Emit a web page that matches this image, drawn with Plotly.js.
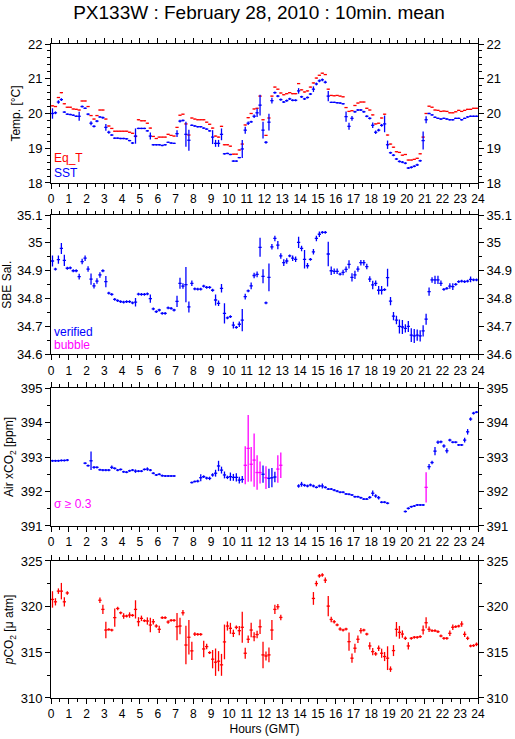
<!DOCTYPE html>
<html><head><meta charset="utf-8">
<script src="https://cdn.plot.ly/plotly-3.0.1.min.js"></script>
<style>body{margin:0;background:#fff}#c{width:515px;height:739px}</style>
</head><body><div id="c"></div>
<script>
// 10-minute mean timestamps (hours GMT, mid-interval)
const hours = Array.from({length:144},(_,i)=>(i*10+5)/60);
const hourTicks = ['0','1','2','3','4','5','6','7','8','9','10','11','12','13','14','15','16','17','18','19','20','21','22','23','24'];

const sst = [20.0,20.02,20.33,20.4,20.04,19.98,19.97,19.95,19.92,19.92,
20.2,20.15,19.98,19.72,19.63,19.78,19.9,19.88,19.6,19.46,
19.38,19.29,19.29,19.28,19.28,19.27,19.22,19.15,19.35,19.57,
19.57,19.57,19.5,19.35,19.1,19.1,19.1,19.08,19.1,19.17,
19.15,19.14,19.42,19.78,19.8,19.4,19.23,19.66,19.64,19.62,
19.62,19.58,19.55,19.5,19.32,19.14,19.14,19.4,18.84,18.85,
18.82,18.63,18.63,18.73,18.98,19.52,19.72,19.76,19.92,20.02,
20.24,19.52,19.17,19.75,20.37,20.6,20.5,20.4,20.33,20.37,
20.42,20.38,20.38,20.65,20.48,20.42,20.46,20.56,20.7,20.85,
20.94,20.97,20.9,20.5,20.32,20.32,20.31,20.3,20.28,19.91,
19.63,19.86,20.05,20.1,20.1,20.05,19.92,19.86,19.66,19.46,
19.52,19.66,19.7,19.1,18.87,18.8,18.69,18.62,18.6,18.57,
18.43,18.45,18.48,18.52,18.64,19.22,19.82,20.0,19.96,19.89,
19.86,19.84,19.86,19.84,19.82,19.82,19.86,19.86,19.82,19.86,
19.9,19.92,19.92,19.92];
const sstErr = [.15,.04,.05,.04,.02,.02,.02,.02,.02,.13,
.03,.02,.03,.06,.03,.03,.02,.03,.1,.04,
.02,.02,.02,.02,.02,.02,.02,.03,.22,.02,
.02,.02,.02,.1,.02,.02,.02,.02,.02,.02,
.02,.02,.1,.04,.03,.36,.3,.02,.02,.02,
.02,.02,.02,.02,.2,.1,.1,.17,.02,.02,
.02,.02,.02,.02,.26,.1,.05,.03,.05,.12,
.3,.24,.04,.24,.08,.03,.03,.03,.03,.03,
.03,.03,.03,.08,.03,.03,.03,.03,.08,.04,
.04,.04,.04,.15,.02,.02,.02,.02,.02,.15,
.1,.07,.03,.03,.03,.03,.03,.03,.08,.05,
.04,.04,.24,.12,.03,.03,.03,.03,.03,.03,
.03,.03,.03,.03,.03,.26,.1,.02,.02,.02,
.02,.02,.02,.02,.02,.02,.02,.02,.02,.02,
.02,.02,.02,.02];
const eqT = [20.22,20.2,20.46,20.6,20.28,20.18,20.18,20.13,20.12,20.1,
20.36,20.36,20.2,19.94,19.84,19.94,20.1,20.1,19.84,19.64,
19.57,19.49,19.49,19.49,19.49,19.49,19.46,19.43,19.34,19.82,
19.79,19.79,19.72,19.58,19.34,19.28,19.32,19.32,19.32,19.4,
19.37,19.35,19.6,19.95,19.98,19.7,19.38,19.87,19.84,19.82,
19.82,19.82,19.75,19.69,19.58,19.35,19.32,19.63,19.1,19.1,
19.06,18.83,18.83,18.95,19.12,19.67,19.88,20.0,20.13,20.15,
20.5,19.82,19.37,19.87,20.5,20.76,20.7,20.59,20.54,20.57,
20.6,20.57,20.57,20.86,20.68,20.62,20.65,20.76,20.88,21.02,
21.1,21.16,21.12,20.7,20.52,20.51,20.52,20.5,20.48,20.17,
20.06,20.08,20.23,20.3,20.33,20.33,20.15,20.1,19.96,19.7,
19.72,19.87,19.98,19.38,19.12,19.03,18.9,18.88,18.8,18.82,
18.66,18.66,18.68,18.71,18.84,19.32,20.0,20.21,20.18,20.1,
20.09,20.06,20.07,20.06,20.02,20.02,20.05,20.09,20.06,20.09,
20.12,20.12,20.15,20.15];

const sal = [34.935,34.906,34.94,34.98,34.937,34.909,34.91,34.9,34.9,34.879,
34.933,34.945,34.906,34.87,34.846,34.863,34.885,34.9,34.861,34.82,
34.815,34.797,34.793,34.789,34.787,34.789,34.789,34.785,34.787,34.816,
34.815,34.815,34.817,34.8,34.763,34.753,34.759,34.747,34.747,34.767,
34.765,34.759,34.79,34.855,34.845,34.85,34.77,34.855,34.835,34.834,
34.834,34.845,34.84,34.84,34.83,34.795,34.783,34.837,34.747,34.731,
34.735,34.705,34.697,34.708,34.723,34.807,34.828,34.846,34.883,34.887,
34.984,34.88,34.785,34.876,34.986,35.016,34.992,34.953,34.929,34.935,
34.953,34.945,34.941,35.002,34.98,34.941,34.918,34.941,34.968,35.016,
35.031,35.038,35.038,34.96,34.9,34.898,34.898,34.888,34.894,34.905,
34.923,34.876,34.885,34.906,34.929,34.929,34.915,34.87,34.849,34.855,
34.83,34.83,34.832,34.875,34.791,34.737,34.723,34.7,34.698,34.693,
34.7,34.669,34.666,34.669,34.666,34.684,34.726,34.825,34.867,34.867,
34.867,34.855,34.833,34.837,34.845,34.843,34.851,34.861,34.863,34.861,
34.863,34.869,34.867,34.867];
const salErr = [.02,.005,.015,.02,.02,.005,.005,.005,.005,.01,
.01,.01,.01,.02,.01,.01,.01,.005,.02,.005,
.005,.005,.005,.005,.005,.005,.005,.005,.015,.005,
.005,.005,.005,.015,.005,.005,.005,.005,.005,.005,
.005,.005,.02,.02,.01,.063,.02,.01,.005,.005,
.005,.005,.005,.005,.005,.02,.01,.015,.036,.005,
.005,.012,.005,.01,.04,.01,.005,.012,.01,.01,
.034,.025,.005,.05,.01,.01,.015,.01,.012,.01,
.005,.01,.01,.02,.01,.033,.01,.005,.01,.01,
.01,.005,.005,.044,.015,.01,.01,.005,.01,.01,
.015,.015,.015,.01,.01,.01,.01,.01,.015,.01,
.015,.015,.005,.032,.015,.015,.015,.025,.025,.015,
.02,.025,.025,.02,.02,.02,.02,.015,.01,.015,
.015,.01,.005,.005,.01,.012,.005,.005,.005,.005,
.005,.01,.005,.005];

const xco2 = [392.89,392.89,392.89,392.9,392.9,392.91,null,null,null,null,
null,392.82,392.75,392.89,392.7,392.7,392.63,392.62,392.62,392.62,
392.7,392.67,392.62,392.64,392.57,392.56,392.6,392.62,392.59,392.59,
392.59,392.64,392.65,392.62,392.53,392.48,392.5,392.46,392.45,392.45,
392.45,392.45,null,null,null,null,null,392.26,392.29,392.3,
392.4,392.43,392.39,392.38,392.48,392.53,392.74,392.62,392.48,392.41,
392.43,392.41,392.41,392.33,392.35,392.76,393.25,392.79,392.91,392.55,
392.55,392.5,392.4,392.38,392.4,392.42,392.65,392.76,null,null,
null,null,null,392.16,392.21,392.18,392.16,392.19,392.16,392.12,
392.16,392.16,392.12,392.07,392.07,392.04,392.01,391.98,391.98,391.93,
391.92,391.9,391.85,391.85,391.82,391.78,391.78,391.83,391.95,391.87,
391.82,391.69,391.69,391.66,null,null,null,null,null,391.42,
391.51,391.56,391.58,391.61,391.61,391.61,392.12,392.72,392.84,393.17,
393.43,393.44,393.32,393.18,393.49,393.43,393.43,393.35,393.35,393.49,
393.73,394.1,394.27,394.3];
const xco2Err = [.03,.03,.03,.03,.03,.03,0,0,0,0,
0,.03,.03,.27,.04,.03,.03,.03,.03,.03,
.05,.03,.03,.03,.03,.03,.03,.03,.05,.03,
.03,.03,.05,.03,.03,.03,.03,.03,.03,.03,
.03,.03,0,0,0,0,0,.03,.03,.04,
.1,.04,.04,.05,.05,.1,.15,.1,.1,.05,
.12,.1,.12,.1,.1,.55,.97,.5,.77,.5,
.32,.25,.33,.28,.28,.15,.4,.37,0,0,
0,0,0,.05,.07,.04,.04,.04,.04,.03,
.04,.07,.03,.03,.03,.03,.03,.03,.03,.03,
.03,.03,.03,.03,.03,.03,.03,.04,.08,.05,
.05,.03,.03,.03,0,0,0,0,0,.03,
.03,.03,.03,.03,.03,.03,.44,.08,.05,.12,
.05,.04,.05,.07,.04,.03,.03,.03,.03,.07,
.08,.05,.04,.03];
const sigmaLimit = 0.3;

const pco2 = [320.79,320.53,321.7,321.7,320.53,321.5,null,null,null,null,
null,null,null,null,null,null,320.7,319.7,317.44,317.5,
317.44,318.8,319.8,319.33,318.97,318.97,319.08,319.05,319.7,318.35,
318.72,318.46,318.43,317.99,318.35,317.88,317.52,318.79,318.79,318.32,
318.5,318.5,317.81,317.88,319.33,315.8,316.65,315.16,317.0,316.97,
316.97,315.37,315.63,314.97,314.25,313.92,314.03,313.63,316.14,317.88,
317.63,317.08,317.74,317.37,317.74,314.9,316.43,317.44,316.7,316.95,
317.8,314.72,314.6,314.72,317.44,319.7,319.99,318.82,null,null,
null,null,null,null,null,null,null,null,320.9,322.53,
323.37,323.47,322.9,320.06,318.6,318.35,318.0,317.55,317.44,317.55,
316.17,314.36,315.45,316.43,317.37,317.44,317.0,315.7,315.08,314.83,
315.45,314.9,314.54,314.36,313.16,315.19,317.52,317.19,317.0,316.54,
315.7,316.54,316.65,316.65,316.72,317.44,318.24,317.52,317.37,317.37,
317.26,316.79,316.54,316.54,317.08,317.74,317.81,317.88,318.1,316.97,
316.54,315.7,315.74,315.88];
const pco2Err = [.9,.4,.3,.9,.5,.2,0,0,0,0,
0,0,0,0,0,0,.3,.5,.9,.15,
.15,1.0,.2,.15,.3,.15,.3,.15,1.0,.5,
.3,.15,.4,.8,.3,.2,.4,.15,.15,.2,
.15,.15,1.5,.9,.3,2.1,1.9,1.0,.2,.15,
.15,.9,.3,.15,1.0,1.5,1.1,1.2,1.9,.5,
.6,.4,.2,.5,1.7,.6,.4,.8,.5,.4,
.8,1.45,.5,.8,1.1,.5,.3,.3,0,0,
0,0,0,0,0,0,0,0,.7,.3,
.2,.2,.3,1.1,.3,.2,.15,.2,.15,.15,
1.0,.5,.5,.4,.3,.15,.15,.4,.4,.2,
.3,.5,.5,1.3,.3,.6,.8,.7,.4,.2,
.4,.15,.15,.15,.15,.5,.6,.3,.15,.15,
.15,.15,.15,.15,.3,.3,.15,.15,.3,.3,
.2,.15,.15,.2];

const RED='#ff0000', BLUE='#0000ff', MAG='#ff00ff';
const FONT='Liberation Sans, Arial, sans-serif';
const halfStep = 5.5/60;

function pts(x, y, err, color, xa, ya){
  const t = {type:'scatter', mode:'markers', x:x, y:y, xaxis:xa, yaxis:ya,
    marker:{size:1, color:color}, hoverinfo:'skip', showlegend:false,
    error_x:{type:'constant', value:halfStep, width:0, thickness:1.3, color:color}};
  if (err) t.error_y = {type:'data', array:err, width:0, thickness:1.3, color:color};
  return t;
}
// carrier trace so that the right-hand mirror axis gets drawn (invisible)
function carrier(x, y, xa, ya){
  return {type:'scatter', mode:'markers', x:x, y:y, xaxis:xa, yaxis:ya,
    marker:{size:1, opacity:0}, hoverinfo:'skip', showlegend:false};
}
// split xCO2 by sigma threshold
const xLow = xco2.map((v,i)=> xco2Err[i] < sigmaLimit ? v : null);
const xHigh = xco2.map((v,i)=> xco2Err[i] >= sigmaLimit ? v : null);

const traces = [
  pts(hours, eqT, null, RED, 'x', 'y'),
  pts(hours, sst, sstErr, BLUE, 'x', 'y'),
  pts(hours, sal, salErr, BLUE, 'x2', 'y2'),
  pts(hours, xLow, xco2Err, BLUE, 'x3', 'y3'),
  pts(hours, xHigh, xco2Err, MAG, 'x3', 'y3'),
  pts(hours, pco2, pco2Err, RED, 'x4', 'y4'),
  carrier(hours, sst, 'x', 'y5'),
  carrier(hours, sal, 'x2', 'y6'),
  carrier(hours, xco2, 'x3', 'y7'),
  carrier(hours, pco2, 'x4', 'y8')
];

const doms = [[0.7875,1],[0.5255,0.7385],[0.263,0.474],[0,0.2095]];
const yr = [[18,22,1,0.2],[34.6,35.1,0.1,0.05],[391,395,1,0.5],[310,325,5,2.5]];
const ytitles = ['Temp. [°C]','SBE Sal.','Air xCO<sub>2</sub> [ppm]','<i>p</i>CO<sub>2</sub> [μ atm]'];

const layout = {
  width:515, height:739, paper_bgcolor:'#fff', plot_bgcolor:'#fff',
  margin:{l:51, r:37, t:44, b:41},
  font:{family:FONT, size:12, color:'#000'},
  title:{text:'PX133W : February 28, 2010 : 10min. mean', x:0.503, xanchor:'center', y:0.983, yanchor:'middle', yref:'container', font:{size:19, family:FONT}},
  showlegend:false,
  annotations:[
    {text:'Eq_T', x:0.05, y:18.72, xref:'x', yref:'y', xanchor:'left', yanchor:'middle', showarrow:false, font:{color:RED, size:12}},
    {text:'SST', x:0.05, y:18.3, xref:'x', yref:'y', xanchor:'left', yanchor:'middle', showarrow:false, font:{color:BLUE, size:12}},
    {text:'verified', x:0.05, y:34.679, xref:'x2', yref:'y2', xanchor:'left', yanchor:'middle', showarrow:false, font:{color:BLUE, size:12}},
    {text:'bubble', x:0.05, y:34.633, xref:'x2', yref:'y2', xanchor:'left', yanchor:'middle', showarrow:false, font:{color:MAG, size:12}},
    {text:'σ ≥ 0.3', x:0.05, y:391.63, xref:'x3', yref:'y3', xanchor:'left', yanchor:'middle', showarrow:false, font:{color:MAG, size:12}}
  ]
};
for (let k=0;k<4;k++){
  const n = k===0 ? '' : String(k+1);
  const yn = 'y'+(k===0?'':n);
  layout['xaxis'+n] = {
    domain:[0,1], anchor:yn, range:[0,24], tickmode:'array',
    tickvals:hourTicks.map(Number), ticktext:hourTicks,
    ticks:'outside', ticklen:5, tickwidth:1, tickcolor:'#000',
    minor:{dtick:0.5, tick0:0, ticks:'outside', ticklen:3, tickwidth:1, tickcolor:'#000', showgrid:false},
    showline:true, linecolor:'#000', linewidth:1, mirror:'ticks',
    showgrid:false, zeroline:false, tickfont:{size:12}, fixedrange:true
  };
  const r = yr[k];
  layout['yaxis'+n] = {
    domain:doms[k], anchor:'x'+n, range:[r[0],r[1]], dtick:r[2], tick0:r[0],
    ticks:'outside', ticklen:5, tickwidth:1, tickcolor:'#000',
    minor:{dtick:r[3], ticks:'outside', ticklen:3, tickwidth:1, tickcolor:'#000', showgrid:false},
    showline:true, linecolor:'#000', linewidth:1, mirror:true,
    showgrid:false, zeroline:false, tickfont:{size:13},
    title:{text:ytitles[k], font:{size:12}, standoff:4}
  };
  layout['yaxis'+(k+5)] = {
    overlaying:yn, side:'right', anchor:'x'+n, range:[r[0],r[1]], dtick:r[2], tick0:r[0],
    ticks:'outside', ticklen:5, tickwidth:1, tickcolor:'#000',
    minor:{dtick:r[3], ticks:'outside', ticklen:3, tickwidth:1, tickcolor:'#000', showgrid:false},
    showline:false, showgrid:false, zeroline:false, tickfont:{size:13}
  };
}
layout.xaxis4.title = {text:'Hours (GMT)', font:{size:12}, standoff:4};

Plotly.newPlot('c', traces, layout, {staticPlot:true, displayModeBar:false});
</script></body></html>
